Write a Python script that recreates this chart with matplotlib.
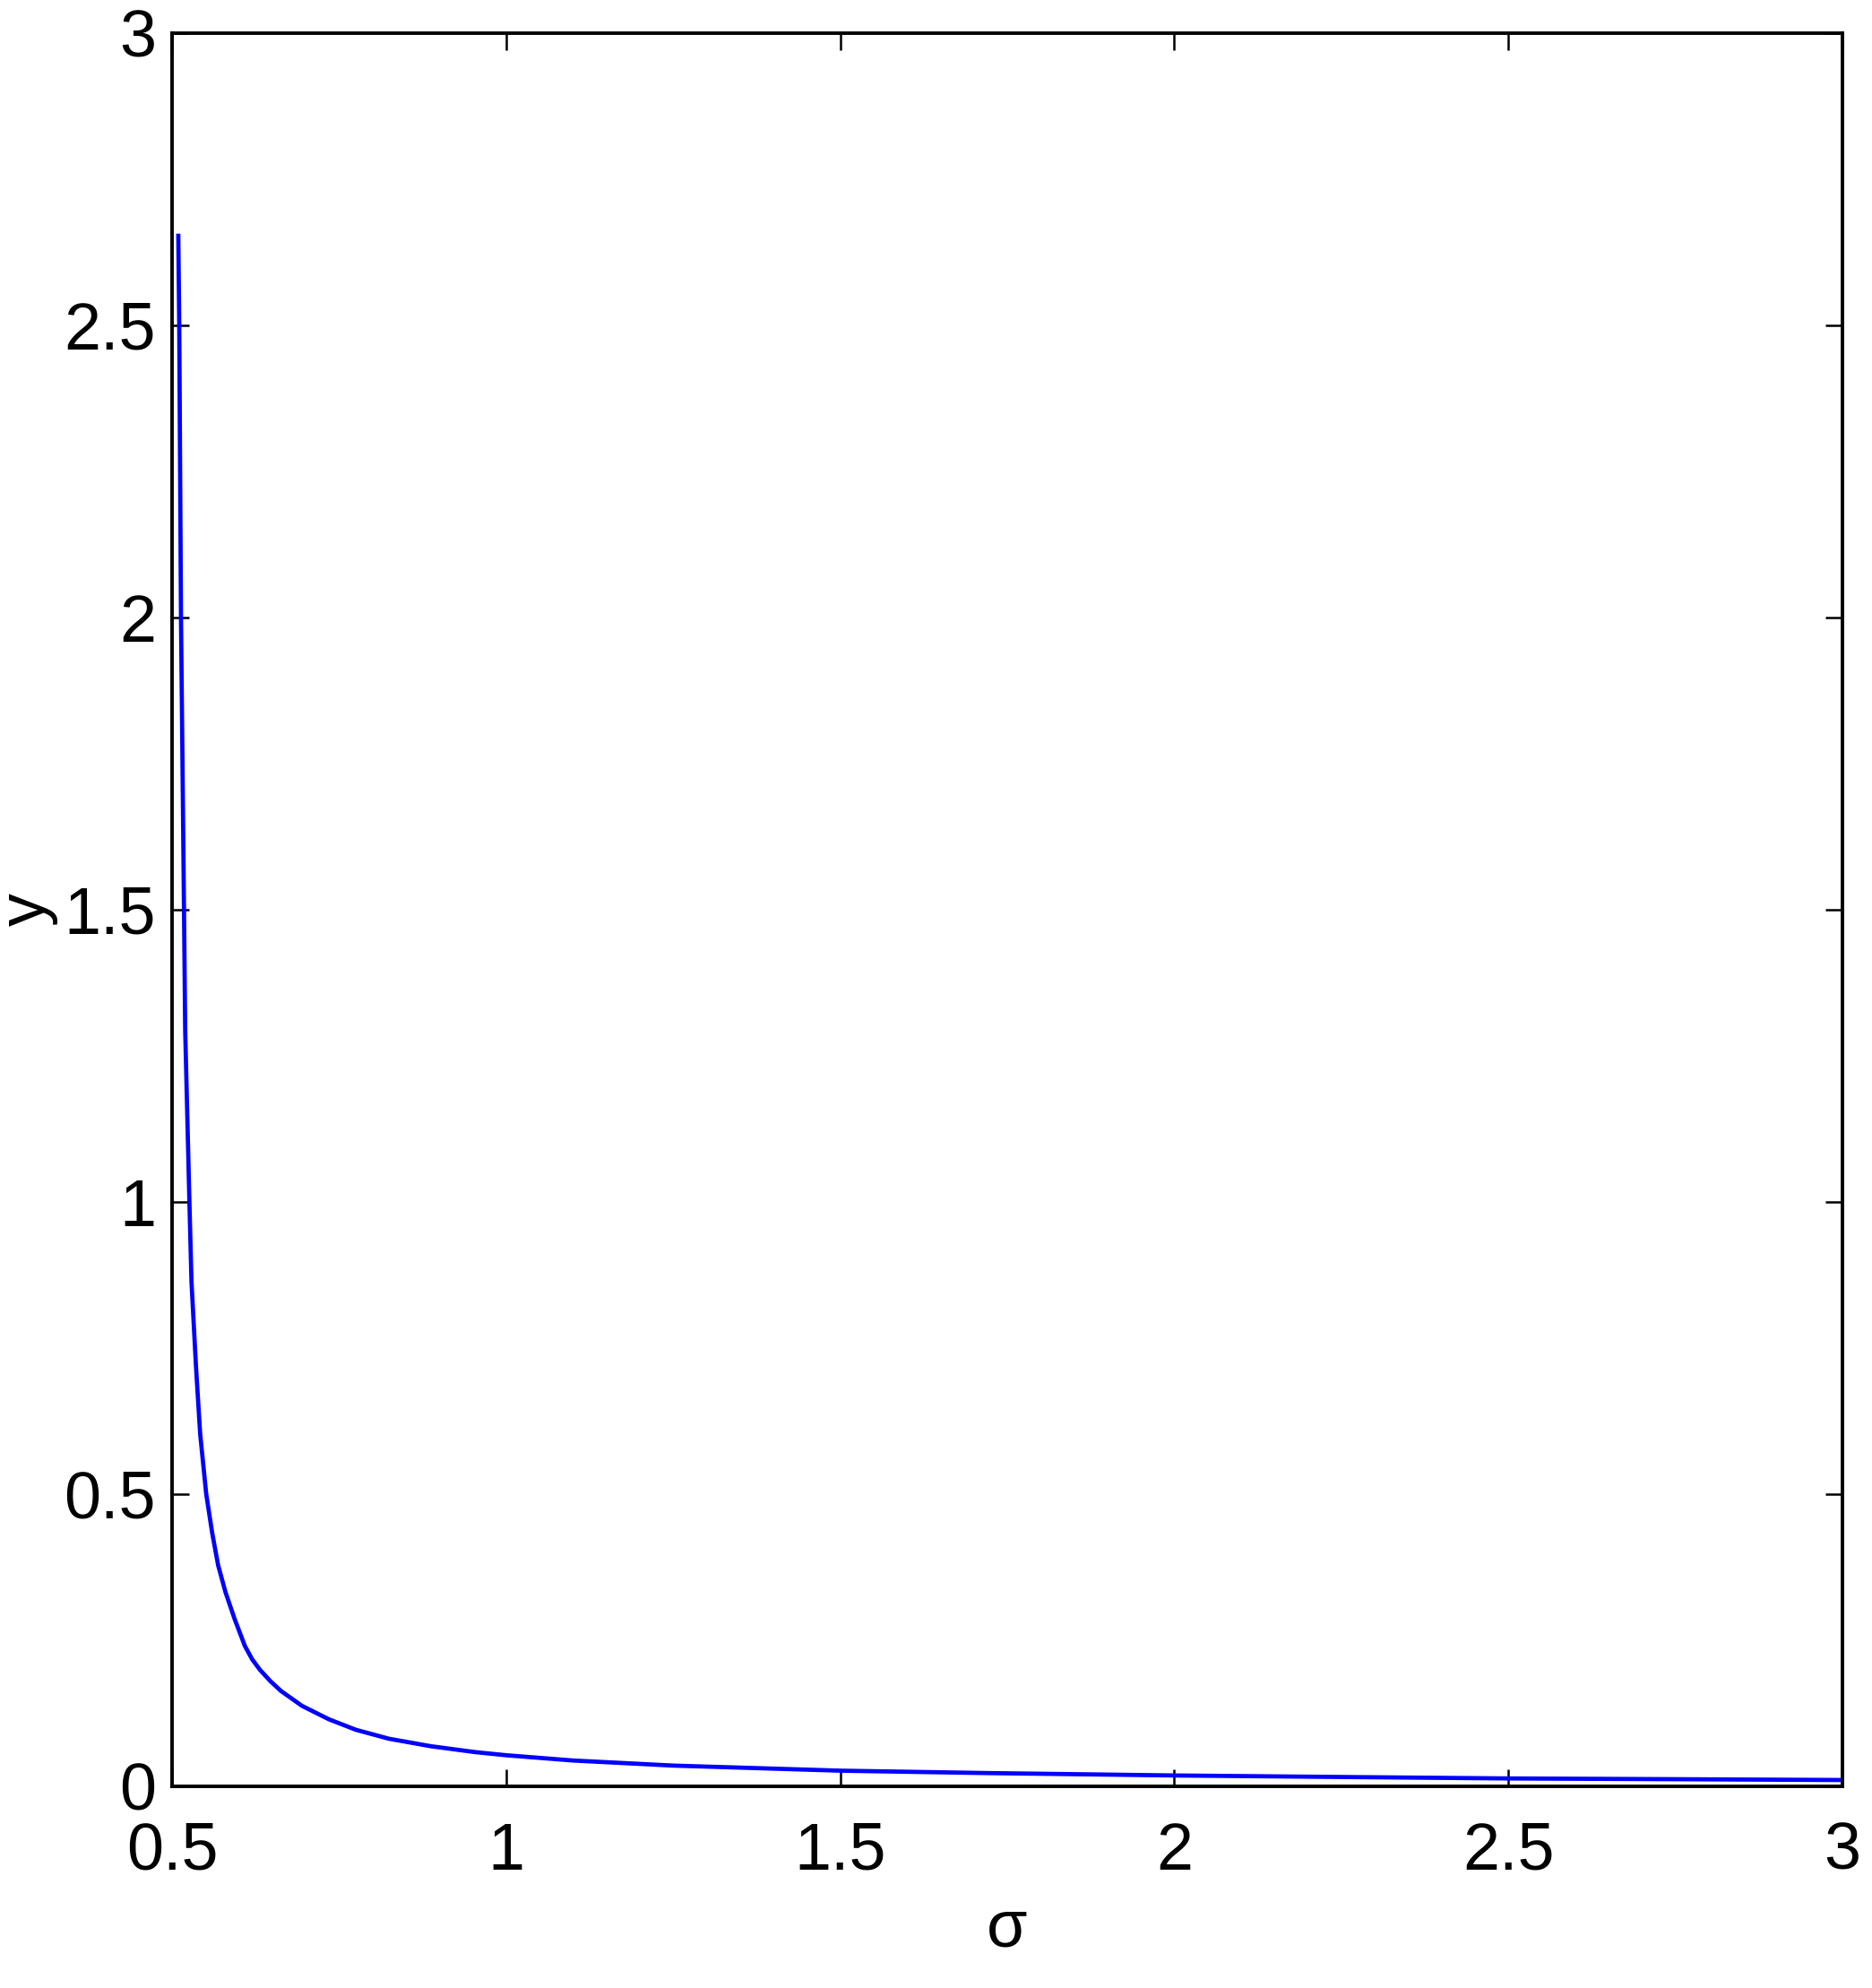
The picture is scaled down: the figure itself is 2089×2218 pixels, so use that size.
import matplotlib
matplotlib.use('Agg')
import matplotlib.pyplot as plt

# values
sigma = [0.5094, 0.5108, 0.5134, 0.5179, 0.5197, 0.5260, 0.5291, 0.5360,
         0.5421, 0.5511, 0.5600, 0.5690, 0.5800, 0.5937, 0.6090, 0.6200,
         0.6317, 0.6470, 0.6630, 0.6945, 0.7348, 0.7750, 0.8244, 0.8870,
         0.9540, 1.0000, 1.1000, 1.2500, 1.5000, 1.7200, 2.0000, 2.2500,
         2.5000, 2.7500, 3.0000]
y = [2.653, 2.500, 2.000, 1.500, 1.293, 1.000, 0.8635, 0.715,
     0.603, 0.5005, 0.434, 0.378, 0.332, 0.286, 0.240, 0.217,
     0.199, 0.180, 0.163, 0.1375, 0.1145, 0.0966, 0.0813, 0.0685,
     0.0583, 0.0530, 0.0440, 0.0353, 0.0266, 0.0225, 0.0184, 0.0158,
     0.0133, 0.0120, 0.0106]

xticks = [0.5, 1, 1.5, 2, 2.5, 3]
xtick_labels = ['0.5', '1', '1.5', '2', '2.5', '3']
yticks = [0, 0.5, 1, 1.5, 2, 2.5, 3]
ytick_labels = ['0', '0.5', '1', '1.5', '2', '2.5', '3']

plt.rcParams['font.family'] = ['Liberation Sans', 'DejaVu Sans']

fig = plt.figure(figsize=(20.89, 22.18), dpi=100)
ax = fig.add_axes([0.0919, 0.1015, 0.8923, 0.8819])

ax.plot(sigma, y, color='#0000ff', linewidth=3.4)

ax.set_xlim(0.5, 3)
ax.set_ylim(0, 3)
ax.set_xticks(xticks)
ax.set_xticklabels(xtick_labels)
ax.set_yticks(yticks)
ax.set_yticklabels(ytick_labels)

for s in ax.spines.values():
    s.set_linewidth(2.8)

ax.tick_params(direction='in', length=13.5, width=1.8, top=True, right=True,
               labelsize=53)
ax.tick_params(axis='x', pad=28)
ax.tick_params(axis='y', pad=13)

ax.set_xlabel('σ', fontsize=53, labelpad=12)
ax.set_ylabel('y', fontsize=53)
ax.yaxis.set_label_coords(-0.068, 0.5)

fig.savefig('out.png', dpi=100)
